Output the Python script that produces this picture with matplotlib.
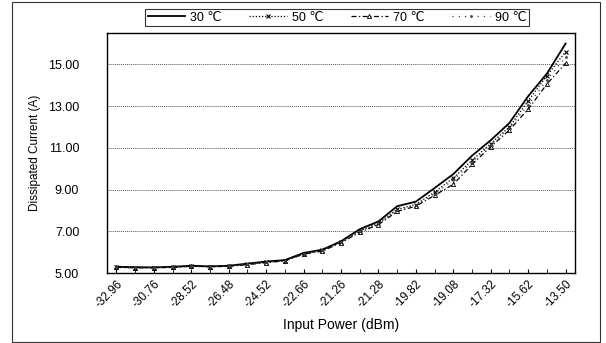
import matplotlib
matplotlib.use('Agg')
import matplotlib.pyplot as plt
import numpy as np
from matplotlib.patches import Rectangle

# ---- data ----
power_labels = ['-32.96', '-30.76', '-28.52', '-26.48', '-24.52', '-22.66', '-21.26',
                '-21.28', '-19.82', '-19.08', '-17.32', '-15.62', '-13.50']

current_30 = [5.30, 5.28, 5.27, 5.30, 5.35, 5.32, 5.35, 5.45, 5.55, 5.62, 5.96, 6.12, 6.52,
              7.10, 7.47, 8.20, 8.42, 9.07, 9.74, 10.62, 11.36, 12.19, 13.47, 14.55, 15.99]
current_50 = [5.28, 5.26, 5.26, 5.28, 5.33, 5.30, 5.33, 5.42, 5.52, 5.60, 5.92, 6.08, 6.48,
              7.02, 7.38, 8.05, 8.28, 8.88, 9.55, 10.40, 11.20, 12.00, 13.25, 14.45, 15.60]
current_70 = [5.27, 5.25, 5.25, 5.27, 5.32, 5.30, 5.32, 5.40, 5.50, 5.58, 5.90, 6.05, 6.45,
              6.95, 7.32, 7.95, 8.20, 8.72, 9.25, 10.20, 11.05, 11.85, 12.85, 14.05, 15.05]
current_90 = [5.29, 5.27, 5.26, 5.28, 5.33, 5.31, 5.33, 5.43, 5.52, 5.60, 5.93, 6.10, 6.50,
              7.00, 7.40, 8.02, 8.25, 8.80, 9.45, 10.30, 11.15, 11.95, 13.05, 14.25, 15.35]

plt.rcParams['font.family'] = ['Liberation Sans', 'DejaVu Sans']

fig = plt.figure(figsize=(6.06, 3.43), dpi=100)
ax = fig.add_axes([0.1766, 0.204, 0.7722, 0.700])

x = np.arange(len(current_30))
ax.plot(x, current_30, color='black', lw=1.3, label='30 ℃')
ax.plot(x, current_50, color='black', lw=0.9, ls=(0, (1, 1.5)), marker='x', ms=3,
        mew=0.8, label='50 ℃')
ax.plot(x, current_70, color='black', lw=0.9, ls=(0, (4, 2, 1, 2)), marker='^', ms=3,
        mfc='none', mew=0.6, label='70 ℃')
ax.plot(x, current_90, color='#444444', lw=0.9, ls=(0, (1, 4)), marker='.', ms=2,
        label='90 ℃')

ax.set_xlim(-0.5, len(x) - 0.5)
ax.set_ylim(5, 16.5)
ax.set_yticks([5, 7, 9, 11, 13, 15])
ax.set_yticklabels(['%.2f' % v for v in [5, 7, 9, 11, 13, 15]], fontsize=9)
ax.yaxis.grid(True, color='#555555', lw=0.7, ls=(0, (1, 1)))
ax.set_axisbelow(True)

ax.set_xticks(x[::2])
ax.set_xticklabels(power_labels, rotation=45, ha='right', rotation_mode='anchor', fontsize=8.5)
ax.set_xticks(x, minor=True)
ax.tick_params(axis='x', which='both', direction='in', length=3)
ax.tick_params(axis='y', length=0, pad=20)

for s in ax.spines.values():
    s.set_linewidth(1.0)

ax.set_xlabel('Input Power (dBm)', fontsize=10, labelpad=6)
ax.set_ylabel('Dissipated Current (A)', fontsize=8.5, labelpad=5)

leg = fig.legend(loc='center', bbox_to_anchor=(0.556, 0.948), ncol=4, fontsize=9,
                 frameon=True, fancybox=False, edgecolor='black', handlelength=3.0,
                 columnspacing=2.2, borderpad=0.2, handletextpad=0.4)
leg.get_frame().set_linewidth(0.8)

# outer frame around the figure, as in the scanned chart
fig.patches.append(Rectangle((0.02, 0.003), 0.97, 0.99, transform=fig.transFigure,
                             fill=False, lw=0.8, ec='#333333'))

fig.savefig('out.png', dpi=100)
